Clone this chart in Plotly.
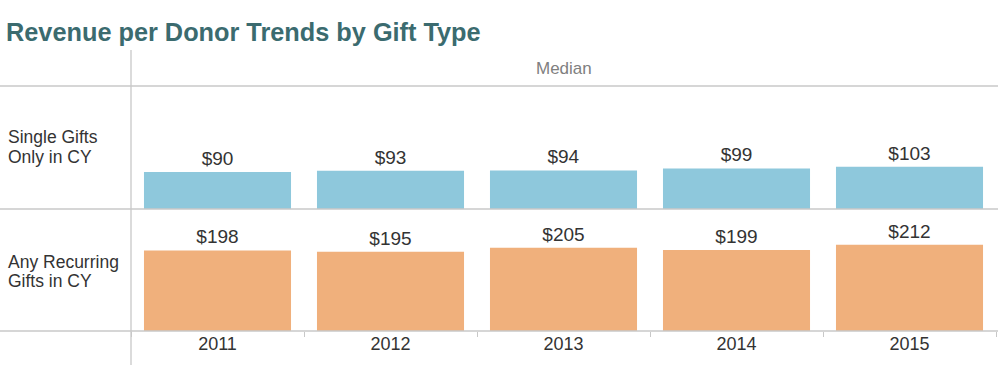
import plotly.graph_objects as go

years = ["2011", "2012", "2013", "2014", "2015"]
single_vals = [90, 93, 94, 99, 103]
recurring_vals = [198, 195, 205, 199, 212]
row_label_lines = [["Single Gifts", "Only in CY"], ["Any Recurring", "Gifts in CY"]]
title_text = "Revenue per Donor Trends by Gift Type"
header_text = "Median"

W, H = 998, 365
def py(px):
    return 1 - px / H
def pxx(px):
    return px / W

FONT = "Liberation Sans, Arial, sans-serif"
fig = go.Figure()
fig.add_trace(go.Bar(x=years, y=single_vals, marker_color="#8ec8dc",
                     marker_line_width=0,
                     text=["$%d" % v for v in single_vals], textposition="outside",
                     textfont=dict(size=19, color="#333333", family=FONT),
                     cliponaxis=False, xaxis="x", yaxis="y", showlegend=False,
                     hoverinfo="skip"))
fig.add_trace(go.Bar(x=years, y=recurring_vals, marker_color="#f0b07c",
                     marker_line_width=0,
                     text=["$%d" % v for v in recurring_vals], textposition="outside",
                     textfont=dict(size=19, color="#333333", family=FONT),
                     cliponaxis=False, xaxis="x2", yaxis="y2", showlegend=False,
                     hoverinfo="skip"))

xdom = [pxx(131), pxx(996)]
fig.update_layout(
    width=W, height=H, margin=dict(l=0, r=0, t=0, b=0),
    paper_bgcolor="white", plot_bgcolor="white", bargap=0.15,
    font=dict(family=FONT, color="#333333"),
    xaxis=dict(domain=xdom, anchor="y", showticklabels=False, showgrid=False,
               zeroline=False, showline=False, ticks="", range=[-0.5, 4.5]),
    yaxis=dict(domain=[py(209), py(86)], anchor="x", range=[0, 300], visible=False),
    xaxis2=dict(domain=xdom, anchor="y2", showgrid=False, zeroline=False, showline=False,
                ticks="outside", tickson="boundaries", ticklen=5, tickcolor="#c8c8c8",
                tickfont=dict(size=18, color="#333333"), range=[-0.5, 4.5]),
    yaxis2=dict(domain=[py(331), py(209)], anchor="x2", range=[0, 300], visible=False),
)

line = dict(color="#c8c8c8", width=1.3)
shapes = []
for ypx in (86, 209, 331):
    shapes.append(dict(type="line", xref="paper", yref="paper", x0=0, x1=1,
                       y0=py(ypx), y1=py(ypx), line=line, layer="above"))
shapes.append(dict(type="line", xref="paper", yref="paper", x0=pxx(131), x1=pxx(131),
                   y0=py(50), y1=0, line=line))
fig.update_layout(shapes=shapes)

ann = [
    dict(text="<b>%s</b>" % title_text, x=pxx(4), y=py(32), xref="paper", yref="paper",
         xanchor="left", yanchor="middle", showarrow=False,
         font=dict(size=25.3, color="#3b6b6f", family=FONT)),
    dict(text=header_text, x=(xdom[0] + xdom[1]) / 2, y=py(68), xref="paper", yref="paper",
         xanchor="center", yanchor="middle", showarrow=False,
         font=dict(size=17, color="#808080", family=FONT)),
]
label_y = [[137, 156.5], [261.5, 280.5]]
for lines, ys in zip(row_label_lines, label_y):
    for t, yy in zip(lines, ys):
        ann.append(dict(text=t, x=pxx(6), y=py(yy), xref="paper", yref="paper",
                        xanchor="left", yanchor="middle", align="left", showarrow=False,
                        font=dict(size=17.5, color="#333333", family=FONT)))
fig.update_layout(annotations=ann)
fig.write_html("out.html", post_script="document.body.style.margin='0';",
               config={"displayModeBar": False})
